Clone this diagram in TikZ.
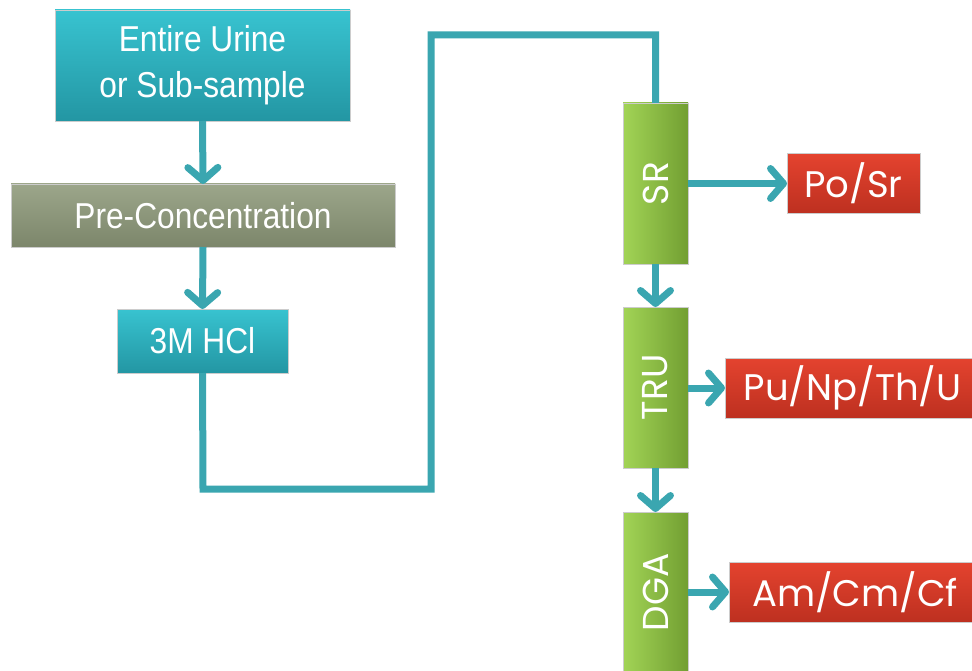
\documentclass[tikz,border=0pt]{standalone}
\usepackage{fontspec}
\setmainfont{Liberation Sans}
\newfontfamily\narrow[FakeStretch=0.88]{Liberation Sans}
\newfontfamily\gothic{Poppins}
\usetikzlibrary{arrows.meta}
\definecolor{lineC}{HTML}{3AA6B0}
\definecolor{tealT}{HTML}{38C3D0}
\definecolor{tealB}{HTML}{2396A3}
\definecolor{oliveT}{HTML}{9CA68A}
\definecolor{oliveB}{HTML}{7C866B}
\definecolor{greenL}{HTML}{A2D456}
\definecolor{greenR}{HTML}{729F32}
\definecolor{redT}{HTML}{E4432F}
\definecolor{redB}{HTML}{BD3020}
\tikzset{
  box/.style={inner sep=0pt, outer sep=0pt, text=white, align=center, draw=white!80!black, line width=0.6pt},
  tealbox/.style={box, top color=tealT, bottom color=tealB, font=\narrow\fontsize{36}{46}\selectfont},
  olivebox/.style={box, top color=oliveT, bottom color=oliveB, font=\narrow\fontsize{36}{40}\selectfont},
  greenbox/.style={box, rotate=90, minimum width=161pt, minimum height=65pt, left color=greenL, right color=greenR, font=\gothic\fontsize{36}{40}\selectfont},
  redbox/.style={box, minimum height=60pt, top color=redT, bottom color=redB, font=\gothic\fontsize{37}{40}\selectfont},
  conn/.style={draw=lineC, line width=7pt},
  arr/.style={conn, -{Straight Barb[length=13pt, width=30pt, round]}},
}
\begin{document}
\begin{tikzpicture}[x=1pt,y=-1pt]
\useasboundingbox (0,0) rectangle (972,671);
\fill[white] (0,0) rectangle (972,671);
\node[tealbox, minimum width=295pt, minimum height=111pt] (urine) at (202.5,65.5) {Entire Urine\\or Sub-sample};
\node[olivebox, minimum width=384pt, minimum height=63pt] (pre) at (203,215.5) {Pre-Concentration};
\node[tealbox, minimum width=171pt, minimum height=64pt] (hcl) at (202.5,341) {3M HCl};
\node[greenbox] (sr) at (655.5,183.5) {SR};
\node[greenbox] (tru) at (655.5,387.5) {TRU};
\node[greenbox] (dga) at (655.5,592.5) {DGA};
\node[redbox, minimum width=133pt] (posr) at (853.5,183.5) {Po/Sr};
\node[redbox, minimum width=255pt] (pu) at (852.5,388) {Pu/Np/Th/U};
\node[redbox, minimum width=252pt] (am) at (855,592) {Am/Cm/Cf};
\coordinate (c1) at (203,489);
\coordinate (c2) at (431,489);
\coordinate (c3) at (431,35);
\coordinate (c4) at (655.5,35);
\draw[arr] (urine.south) -- (pre.north);
\draw[arr] (pre.south) -- (hcl.north);
\draw[conn] (hcl.south) -- (c1) -- (c2) -- (c3) -- (c4) -- (sr.east);
\draw[arr] (sr.west) -- (tru.east);
\draw[arr] (tru.west) -- (dga.east);
\draw[arr] (sr.south) -- (posr.west);
\draw[arr] (tru.south |- pu.west) -- (pu.west);
\draw[arr] (dga.south |- am.west) -- (am.west);
\end{tikzpicture}
\end{document}
